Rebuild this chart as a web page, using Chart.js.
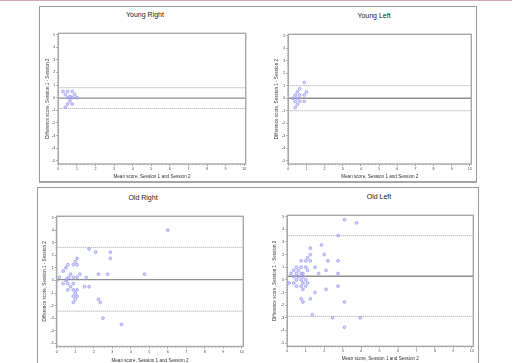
<!DOCTYPE html>
<html>
<head>
<meta charset="utf-8">
<script src="https://cdn.jsdelivr.net/npm/chart.js@4.4.1/dist/chart.umd.min.js"></script>
<style>
  body { margin: 0; width: 518px; height: 363px; overflow: hidden; background: #fff; position: relative;
         font-family: "Liberation Sans", Arial, sans-serif; -webkit-font-smoothing: antialiased; }
  .topline { position: absolute; left: 0; top: 0; width: 512px; height: 1px; background: #cfa9b8; }
  .frame { position: absolute; border: 1px solid #9a9a9a; box-sizing: border-box; }
  .plot { position: absolute; }
  .ttl { position: absolute; font-size: 7px; color: #222; transform: translate(-50%, -50%); white-space: nowrap; }
</style>
</head>
<body>
<div class="topline"></div>
<div class="frame" style="left:39px;top:6px;width:438px;height:177px;border-bottom:2px solid #a5a5a5"></div>
<div class="frame" style="left:37px;top:187px;width:442px;height:200px"></div>

<div class="ttl" style="left:145px;top:14px">Young Right</div>
<div class="ttl" style="left:374px;top:15px">Young Left</div>
<div class="ttl" style="left:143px;top:197px">Old Right</div>
<div class="ttl" style="left:379px;top:196px">Old Left</div>

<canvas id="yr" class="plot" width="218" height="175" style="left:40px;top:8px"></canvas>
<canvas id="yl" class="plot" width="215" height="175" style="left:262px;top:8px"></canvas>
<canvas id="or" class="plot" width="218" height="175" style="left:38px;top:188px"></canvas>
<canvas id="ol" class="plot" width="216" height="175" style="left:262px;top:188px"></canvas>

<script>
// axis ticks
const xTicks = [0, 1, 2, 3, 4, 5, 6, 7, 8, 9, 10]
const yTicks = [-5, -4, -3, -2, -1, 0, 1, 2, 3, 4, 5]

// Young Right: mean of sessions vs difference
const youngRightMean = [0.25, 0.5, 0.75, 0.38, 0.88, 0.63, 0.5, 0.75, 1.0, 0.63, 0.5, 0.75, 0.38]
const youngRightDiff = [0.5, 0.5, 0.5, 0.25, 0.25, 0.1, 0, 0, 0, -0.25, -0.5, -0.5, -0.75]
const youngRightLimits = [-0.85, -0.03, 0.79]   // lower, mean, upper

// Young Left
const youngLeftMean = [0.88, 0.63, 0.5, 1.0, 0.38, 0.63, 0.88, 0.25, 0.5, 0.38, 0.63, 0.88, 0.5, 0.38]
const youngLeftDiff = [1.25, 0.75, 0.5, 0.5, 0.25, 0.25, 0.25, 0, 0, -0.25, -0.25, -0.25, -0.5, -0.75]
const youngLeftLimits = [-1.0, 0.0, 1.0]

// Old Right
const oldRightMean = [6.0, 1.75, 2.1, 2.9, 2.9, 1.1, 1.0, 0.6, 0.9, 1.1, 0.5, 0.35, 0.75, 1.25, 2.25,
  2.75, 4.75, 0.15, 0.65, 0.9, 1.1, 1.6, 0, 0.5, 0.55, 0.35, 0.6, 0.9, 0.75, 1.5, 1.75, 0.6, 0.9,
  1.1, 1.0, 0.9, 1.1, 1.0, 2.25, 2.35, 0.9, 2.5, 3.5]
const oldRightDiff = [4.0, 2.5, 2.25, 2.25, 1.75, 1.75, 1.5, 1.25, 1.25, 1.25, 1.0, 0.75, 0.5, 0.5, 0.5,
  0.5, 0.5, 0.25, 0.25, 0.25, 0.25, 0.25, 0, 0, 0.1, -0.25, -0.25, -0.25, -0.5, -0.5, -0.5, -0.75, -0.75,
  -0.75, -1.0, -1.25, -1.25, -1.5, -1.5, -1.75, -1.75, -3.0, -3.5]
const oldRightLimits = [-2.44, 0.07, 2.63]

// Old Left
const oldLeftMean = [3.1, 3.75, 2.75, 1.85, 1.25, 2.0, 1.25, 1.1, 0.75, 1.0, 1.25, 2.2, 2.75, 0.5, 0.75,
  1.0, 1.5, 2.1, 0.35, 0.6, 1.1, 0.2, 0.5, 0.75, 0.85, 1.7, 2.75, 0.35, 0.6, 0.85, 0.5, 0.75, 1.0, 0.1,
  0.35, 0.85, 1.1, 0.5, 0.75, 1.0, 2.75, 0.85, 2.1, 1.5, 0.75, 1.25, 0.85, 3.1, 1.35, 2.45, 3.95, 3.1]
const oldLeftDiff = [4.75, 4.5, 3.5, 2.75, 2.5, 2.0, 2.0, 1.75, 1.5, 1.5, 1.5, 1.5, 1.5, 1.0, 1.0,
  1.0, 1.0, 0.75, 0.75, 0.75, 0.75, 0.5, 0.5, 0.5, 0.5, 0.5, 0.5, 0.25, 0.25, 0.25, 0, 0, 0, -0.25,
  -0.25, -0.25, -0.25, -0.5, -0.5, -0.5, -0.5, -0.75, -0.75, -1.0, -1.5, -1.5, -1.75, -1.75, -2.75, -3.0, -3.0, -3.75]
const oldLeftLimits = [-2.88, 0.29, 3.49]

const xRange = [0, 10.08]
const yRange = [-5.25, 5.1]

const axisFont = { family: '"Liberation Sans", Arial, sans-serif', size: 4.6 }
const tickFont = { family: '"Liberation Sans", Arial, sans-serif', size: 3.6 }

// box around the plot area plus small minor ticks on the axes
const boxPlugin = {
  id: 'box',
  afterDraw(chart) {
    const { ctx, chartArea: a, scales } = chart
    ctx.save()
    ctx.strokeStyle = '#999'
    ctx.lineWidth = 0.8
    ctx.beginPath()
    for (let v = 0; v <= 10.001; v += 0.2) {
      const px = scales.x.getPixelForValue(v)
      ctx.moveTo(px, a.bottom); ctx.lineTo(px, a.bottom + 1.2)
    }
    for (let v = -5.2; v <= 5.001; v += 0.2) {
      const py = scales.y.getPixelForValue(v)
      ctx.moveTo(a.left, py); ctx.lineTo(a.left - 1.2, py)
    }
    ctx.stroke()
    ctx.strokeStyle = '#a8a8a8'
    ctx.lineWidth = 1.4
    ctx.strokeRect(a.left, a.top, a.right - a.left, a.bottom - a.top)
    ctx.restore()
  }
}

function limitLine(v, dashed) {
  return {
    type: 'line',
    data: [{ x: xRange[0], y: v }, { x: xRange[1], y: v }],
    borderColor: dashed ? '#a0a0a0' : '#8f8f8f',
    borderWidth: dashed ? 1 : 1.4,
    borderDash: dashed ? [1, 1] : [],
    pointRadius: 0,
    order: 2
  }
}

function createPlot(id, xs, ys, limits, g) {
  const points = xs.map((x, i) => ({ x: x, y: ys[i] }))
  return new Chart(document.getElementById(id), {
    type: 'scatter',
    data: {
      datasets: [
        {
          data: points,
          pointStyle: 'circle',
          pointRadius: 1.4,
          borderWidth: 0.7,
          borderColor: '#8e8ef0',
          backgroundColor: 'rgba(185,185,250,0.5)',
          order: 1
        },
        limitLine(limits[0], true),
        limitLine(limits[1], false),
        limitLine(limits[2], true)
      ]
    },
    options: {
      responsive: false,
      animation: false,
      layout: { padding: { top: g.padTop, right: g.padRight, left: 0, bottom: 0 } },
      plugins: { legend: { display: false }, tooltip: { enabled: false } },
      scales: {
        x: {
          type: 'linear', min: xRange[0], max: xRange[1],
          afterBuildTicks: s => { s.ticks = xTicks.map(v => ({ value: v })) },
          afterFit: s => { s.height = g.xH },
          grid: { drawOnChartArea: false, tickLength: 2, tickColor: '#888', tickWidth: 0.8 },
          border: { display: false },
          ticks: { font: tickFont, color: '#444', padding: 1, maxRotation: 0 },
          title: { display: true, text: 'Mean score, Session 1 and Session 2', font: axisFont, color: '#333',
                   padding: { top: 0, bottom: g.xTitlePad } }
        },
        y: {
          type: 'linear', min: yRange[0], max: yRange[1],
          afterBuildTicks: s => { s.ticks = yTicks.map(v => ({ value: v })) },
          afterFit: s => { s.width = g.yW },
          grid: { drawOnChartArea: false, tickLength: 2, tickColor: '#888', tickWidth: 0.8 },
          border: { display: false },
          ticks: { font: tickFont, color: '#444', padding: 1 },
          title: { display: true, text: 'Difference score, Session 1 - Session 2', font: axisFont, color: '#333',
                   padding: { top: g.yTitlePad, bottom: 0 } }
        }
      }
    },
    plugins: [boxPlugin]
  })
}

createPlot('yr', youngRightMean, youngRightDiff, youngRightLimits,
  { padTop: 25.3, padRight: 12.3, xH: 19, yW: 18.3, xTitlePad: 3.5, yTitlePad: 4.9 })
createPlot('yl', youngLeftMean, youngLeftDiff, youngLeftLimits,
  { padTop: 26.3, padRight: 5.7, xH: 19, yW: 26.3, xTitlePad: 3.5, yTitlePad: 11.5 })
createPlot('or', oldRightMean, oldRightDiff, oldRightLimits,
  { padTop: 28.3, padRight: 12.7, xH: 16.5, yW: 18.7, xTitlePad: 0, yTitlePad: 3.5 })
createPlot('ol', oldLeftMean, oldLeftDiff, oldLeftLimits,
  { padTop: 27.3, padRight: 2.3, xH: 16.7, yW: 25.3, xTitlePad: 1.5, yTitlePad: 9.9 })
</script>
</body>
</html>
